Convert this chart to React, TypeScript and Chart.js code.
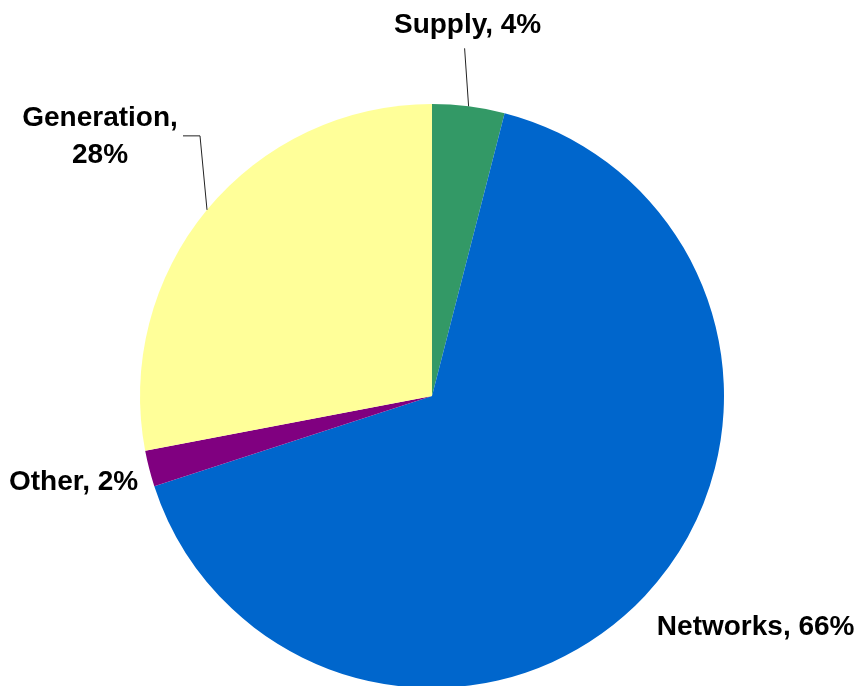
import React, { useEffect, useRef } from "react";
import { Chart, registerables } from "chart.js";

Chart.register(...registerables);

const categories = ["Supply", "Networks", "Other", "Generation"];
const shares = [4, 66, 2, 28];
const colors = ["#339966", "#0066CC", "#800080", "#FFFF99"];

// label layout relative to the slice's outer mid-point
const labelLayout = [
  { lines: ["Supply, 4%"], align: "center", dx: -1, dy: -73, lh: 37, leader: [[-4, -58]] },
  { lines: ["Networks, 66%"], align: "left", dx: 12, dy: 39, lh: 37, leader: null },
  { lines: ["Other, 2%"], align: "right", dx: -11, dy: 21, lh: 37, leader: null },
  { lines: ["Generation,", "28%"], align: "center", dx: -107, dy: -84, lh: 37, leader: [[-7, -74], [-24, -74]] },
];

const labelPlugin = {
  id: "pieLabels",
  afterDraw(chart: any) {
    const ctx = chart.ctx;
    const meta = chart.getDatasetMeta(0);
    ctx.save();
    meta.data.forEach((arc: any, i: number) => {
      const L = labelLayout[i];
      if (!L) return;
      const mid = (arc.startAngle + arc.endAngle) / 2;
      const px = arc.x + Math.cos(mid) * arc.outerRadius;
      const py = arc.y + Math.sin(mid) * arc.outerRadius;
      if (L.leader) {
        ctx.strokeStyle = "#222";
        ctx.lineWidth = 1;
        ctx.beginPath();
        ctx.moveTo(px, py);
        L.leader.forEach((p: number[]) => ctx.lineTo(px + p[0], py + p[1]));
        ctx.stroke();
      }
      ctx.fillStyle = "#000";
      ctx.font = "bold 28px 'Liberation Sans', Arial, sans-serif";
      ctx.textAlign = L.align;
      ctx.textBaseline = "alphabetic";
      L.lines.forEach((t: string, k: number) => {
        ctx.fillText(t, px + L.dx, py + L.dy + k * L.lh);
      });
    });
    ctx.restore();
  },
};

export default function App() {
  const ref = useRef<HTMLCanvasElement>(null);
  useEffect(() => {
    document.body.style.margin = "0";
    const chart = new Chart(ref.current as HTMLCanvasElement, {
      type: "pie",
      data: {
        labels: categories,
        datasets: [
          {
            data: shares,
            backgroundColor: colors,
            borderWidth: 0,
          },
        ],
      },
      options: {
        responsive: false,
        animation: false,
        layout: { padding: { left: 140, right: 134, top: 104, bottom: 2 } },
        plugins: { legend: { display: false }, tooltip: { enabled: false } },
      },
      plugins: [labelPlugin],
    });
    return () => chart.destroy();
  }, []);
  return (
    <div style={{ width: 858, height: 686, overflow: "hidden", background: "#fff" }}>
      <canvas ref={ref} width={858} height={690} />
    </div>
  );
}
